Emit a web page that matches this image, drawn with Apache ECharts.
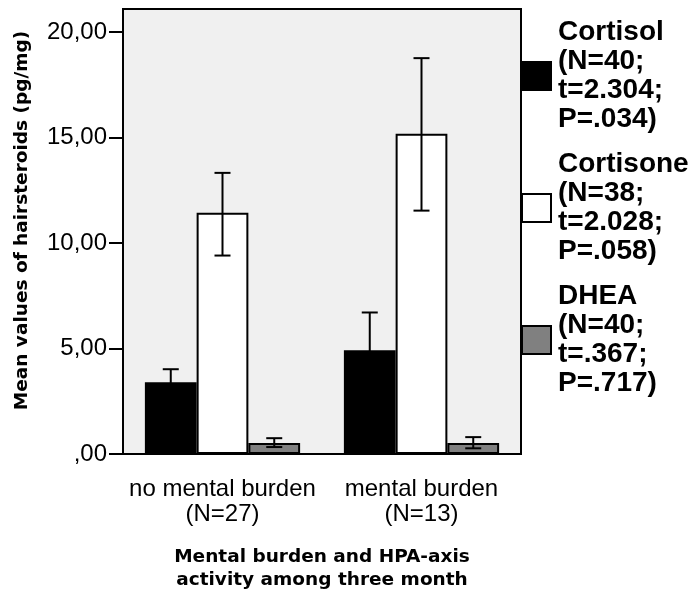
<!DOCTYPE html>
<html lang="en">

<head>
  <meta charset="UTF-8" />
  <title>Hair steroids</title>
  <script src="https://cdn.jsdelivr.net/npm/echarts@6/dist/echarts.min.js"></script>
  <style>
    body,
    html {
      margin: 0;
      padding: 0;
      width: 100%;
      height: 100%;
      overflow: hidden;
      background: #fff;
    }

    #chart {
      width: 700px;
      height: 597px;
    }
  </style>
</head>

<body>
  <div id="chart"></div>
</body>
<script>
  var categories = ['no mental burden\n(N=27)', 'mental burden\n(N=13)'];
  var seriesNames = [
    'Cortisol\n(N=40;\nt=2.304;\nP=.034)',
    'Cortisone\n(N=38;\nt=2.028;\nP=.058)',
    'DHEA\n(N=40;\nt=.367;\nP=.717)'
  ];
  var seriesColors = ['#000000', '#ffffff', '#808080'];
  // means and error bar ends, one value per category
  var cortisolMean = [3.40, 4.92];
  var cortisolLow = [2.78, 3.13];
  var cortisolHigh = [4.02, 6.71];
  var cortisoneMean = [11.44, 15.18];
  var cortisoneLow = [9.41, 11.54];
  var cortisoneHigh = [13.33, 18.77];
  var dheaMean = [0.52, 0.52];
  var dheaLow = [0.33, 0.27];
  var dheaHigh = [0.75, 0.80];
  var yTicks = [0, 5, 10, 15, 20];

  var means = [cortisolMean, cortisoneMean, dheaMean];
  var lows = [cortisolLow, cortisoneLow, dheaLow];
  var highs = [cortisolHigh, cortisoneHigh, dheaHigh];
  var catGap = 0.22;

  var errData = [];
  for (var s = 0; s < 3; s++) {
    for (var c = 0; c < categories.length; c++) {
      errData.push([c, lows[s][c], highs[s][c], s]);
    }
  }

  function renderError(params, api) {
    var c = api.value(0);
    var s = api.value(3);
    var band = api.size([1, 0])[0];
    var bw = band * (1 - catGap) / 3;
    var lo = api.coord([c, api.value(1)]);
    var hi = api.coord([c, api.value(2)]);
    var x = lo[0] + (s - 1) * bw;
    var half = 8;
    var style = { stroke: '#000', lineWidth: 2 };
    return {
      type: 'group',
      children: [
        { type: 'line', shape: { x1: x, y1: lo[1], x2: x, y2: hi[1] }, style: style },
        { type: 'line', shape: { x1: x - half, y1: hi[1], x2: x + half, y2: hi[1] }, style: style },
        { type: 'line', shape: { x1: x - half, y1: lo[1], x2: x + half, y2: lo[1] }, style: style }
      ]
    };
  }

  var nameFont = {
    fontFamily: 'DejaVu Sans',
    fontWeight: 'bold',
    fontSize: 18.5,
    color: '#000'
  };

  var series = seriesNames.map(function (name, i) {
    return {
      name: name,
      type: 'bar',
      data: means[i],
      barGap: '0%',
      barCategoryGap: (catGap * 100) + '%',
      itemStyle: {
        color: seriesColors[i],
        borderColor: '#000',
        borderWidth: 2
      },
      emphasis: { disabled: true }
    };
  });
  series.push({
    type: 'custom',
    renderItem: renderError,
    data: errData,
    z: 5,
    silent: true
  });

  var myChart = echarts.init(document.getElementById('chart'));
  var option = {
    backgroundColor: '#fff',
    animation: false,
    grid: {
      left: 123,
      right: 179,
      top: 9,
      bottom: 142,
      show: true,
      backgroundColor: '#f0f0f0',
      borderColor: '#000',
      borderWidth: 2
    },
    legend: {
      data: seriesNames,
      orient: 'vertical',
      left: 521,
      top: 18,
      padding: 0,
      itemWidth: 29,
      itemHeight: 28,
      itemGap: 16,
      selectedMode: false,
      icon: 'rect',
      textStyle: {
        fontFamily: 'Liberation Sans',
        fontWeight: 'bold',
        fontSize: 28,
        lineHeight: 29,
        color: '#000',
        padding: [0, 0, 0, 2]
      }
    },
    xAxis: {
      type: 'category',
      data: categories,
      name: 'Mental burden and HPA-axis\nactivity among three month',
      nameLocation: 'middle',
      nameGap: 92,
      nameTextStyle: Object.assign({ lineHeight: 23 }, nameFont),
      axisLine: { lineStyle: { color: '#000', width: 2 } },
      axisTick: { alignWithLabel: true, length: 14, lineStyle: { color: '#000', width: 2 } },
      axisLabel: {
        interval: 0,
        hideOverlap: false,
        margin: 23,
        fontFamily: 'Liberation Sans',
        fontSize: 24,
        lineHeight: 25,
        color: '#000'
      }
    },
    yAxis: {
      type: 'value',
      min: 0,
      max: 21.1,
      interval: 5,
      name: 'Mean values of hairsteroids (pg/mg)',
      nameLocation: 'middle',
      nameGap: 90,
      nameTextStyle: Object.assign({ lineHeight: 22, padding: [0, 0, 0, 22] }, nameFont),
      splitLine: { show: false },
      axisLine: { show: true, lineStyle: { color: '#000', width: 2 } },
      axisTick: { show: true, length: 14, customValues: yTicks, lineStyle: { color: '#000', width: 2 } },
      axisLabel: {
        customValues: yTicks,
        margin: 16,
        fontFamily: 'Liberation Sans',
        fontSize: 24,
        color: '#000',
        formatter: function (v) {
          return v === 0 ? ',00' : v.toFixed(2).replace('.', ',');
        }
      }
    },
    series: series
  };
  myChart.setOption(option);
</script>

</html>
